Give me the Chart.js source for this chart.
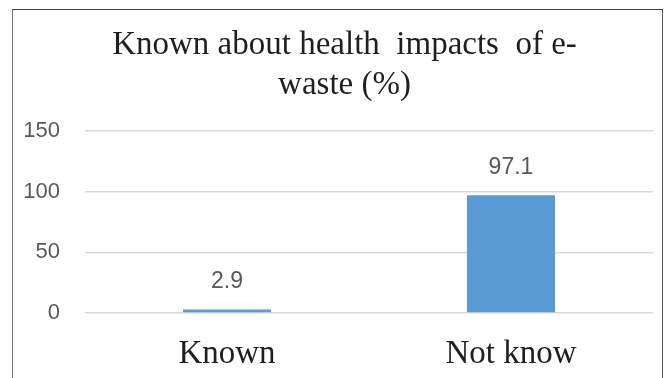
<!DOCTYPE html>
<html>
<head>
<meta charset="utf-8">
<script src="https://cdn.jsdelivr.net/npm/chart.js@4/dist/chart.umd.min.js"></script>
<style>
  html, body { margin: 0; padding: 0; background: #fff; }
  #wrap { position: relative; width: 665px; height: 378px; overflow: hidden; }
  #frame {
    position: absolute; left: 12px; top: 9px; width: 649px; height: 400px;
    border-top: 1px solid #3c3c3c; border-left: 1px solid #7a7a7a;
    border-right: 1px solid #555; pointer-events: none;
  }
</style>
</head>
<body>
<div id="wrap">
  <canvas id="chartKnown" width="665" height="378"></canvas>
  <div id="frame"></div>
</div>
<script>
const categories = ['Known', 'Not know']
const percentValues = [2.9, 97.1]
const yTicks = [0, 50, 100, 150]
const titleLines = ['Known about health  impacts  of e-', 'waste (%)']

// value labels above each bar
const barValueLabels = {
  id: 'barValueLabels',
  afterDatasetsDraw(chart) {
    const ctx = chart.ctx
    const meta = chart.getDatasetMeta(0)
    ctx.save()
    ctx.font = '23px "Liberation Sans", Arial, sans-serif'
    ctx.fillStyle = '#595959'
    ctx.textAlign = 'center'
    ctx.textBaseline = 'middle'
    meta.data.forEach((bar, i) => {
      ctx.fillText(String(percentValues[i]), bar.x, bar.y - 28)
    })
    ctx.restore()
  }
}

// nudge the title a bit to the right, over the plot area
const titleShift = {
  id: 'titleShift',
  afterLayout(chart) {
    const t = chart.titleBlock
    if (!t) return
    t.left += 18
    t.right += 18
  }
}

const ctxKnown = document.getElementById('chartKnown').getContext('2d')
const chartKnown = new Chart(ctxKnown, {
  type: 'bar',
  data: {
    labels: categories,
    datasets: [{
      data: percentValues,
      backgroundColor: '#5b9bd5',
      borderWidth: 0,
      categoryPercentage: 1,
      barPercentage: 0.31,
    }]
  },
  options: {
    responsive: false,
    animation: false,
    layout: { padding: { top: 16, right: 12, bottom: 6, left: 0 } },
    plugins: {
      legend: { display: false },
      tooltip: { enabled: false },
      title: {
        display: true,
        text: titleLines,
        color: '#1f1f1f',
        font: { family: '"Liberation Serif", "Times New Roman", serif', size: 33, weight: 'normal', lineHeight: 1.2 },
        padding: { top: 10, bottom: 26 },
      },
    },
    scales: {
      x: {
        afterFit: scale => {
          scale.height = 59
        },
        grid: { display: false },
        border: { display: false },
        ticks: {
          color: '#1f1f1f',
          padding: 14,
          font: { family: '"Liberation Serif", "Times New Roman", serif', size: 33, lineHeight: 1.2 },
        },
      },
      y: {
        min: yTicks[0],
        max: yTicks[yTicks.length - 1],
        afterBuildTicks: scale => {
          scale.ticks = yTicks.map(v => ({ value: v }))
        },
        afterFit: scale => {
          scale.width = 85
        },
        grid: { color: '#d9d9d9', lineWidth: 1.5, drawTicks: false },
        border: { display: false },
        ticks: {
          color: '#595959',
          padding: 25,
          font: { family: '"Liberation Sans", Arial, sans-serif', size: 22 },
        },
      },
    },
  },
  plugins: [barValueLabels, titleShift],
})
</script>
</body>
</html>
